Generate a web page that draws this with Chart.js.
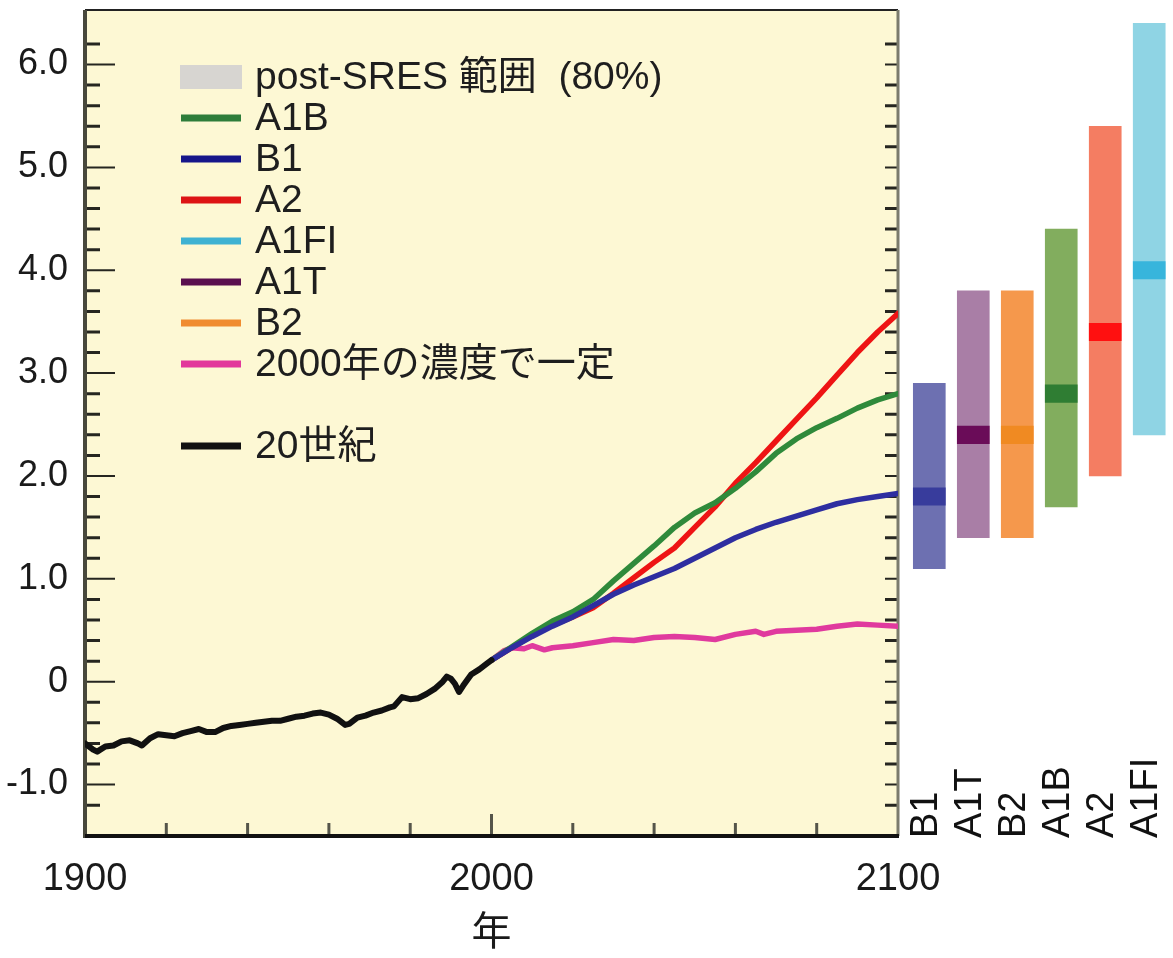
<!DOCTYPE html>
<html lang="ja">
<head>
<meta charset="utf-8">
<title>世界平均地上気温の上昇</title>
<script src="https://cdn.jsdelivr.net/npm/chart.js@4.4.1/dist/chart.umd.min.js"></script>
<style>
  html, body { margin: 0; padding: 0; background: #fff; }
  .chart-container { position: relative; width: 1173px; height: 958px; }
</style>
</head>
<body>
<div class="chart-container">
  <canvas id="chart"></canvas>
</div>
<script>
// 20世紀（観測）
const histYears = [1900, 1902, 1903, 1905, 1907, 1909, 1911, 1913, 1914, 1916, 1918, 1920, 1922, 1924, 1926, 1928, 1930, 1932, 1934, 1936, 1938, 1940, 1942, 1944, 1946, 1948, 1950, 1952, 1954, 1956, 1958, 1960, 1962, 1964, 1965, 1967, 1969, 1971, 1973, 1975, 1976, 1978, 1980, 1982, 1984, 1986, 1988, 1989, 1990, 1991, 1992, 1993, 1995, 1997, 1999, 2000];
const histValues = [-0.60, -0.66, -0.68, -0.63, -0.62, -0.58, -0.57, -0.60, -0.62, -0.55, -0.51, -0.52, -0.53, -0.50, -0.48, -0.46, -0.49, -0.49, -0.45, -0.43, -0.42, -0.41, -0.40, -0.39, -0.38, -0.38, -0.36, -0.34, -0.33, -0.31, -0.30, -0.32, -0.36, -0.42, -0.41, -0.35, -0.33, -0.30, -0.28, -0.25, -0.24, -0.15, -0.17, -0.16, -0.12, -0.07, 0.00, 0.05, 0.03, -0.02, -0.10, -0.04, 0.07, 0.12, 0.18, 0.21];

// シナリオ予測（2000〜2100年）
const projYears = [2000, 2005, 2010, 2015, 2020, 2025, 2030, 2035, 2040, 2045, 2050, 2055, 2060, 2065, 2070, 2075, 2080, 2085, 2090, 2095, 2100];
const a2Values  = [0.21, 0.33, 0.45, 0.55, 0.63, 0.72, 0.86, 1.01, 1.16, 1.30, 1.50, 1.70, 1.93, 2.13, 2.34, 2.55, 2.76, 2.98, 3.20, 3.40, 3.58];
const a1bValues = [0.21, 0.34, 0.47, 0.59, 0.68, 0.80, 0.98, 1.15, 1.32, 1.50, 1.64, 1.74, 1.88, 2.04, 2.22, 2.36, 2.47, 2.56, 2.66, 2.74, 2.80];
const b1Values  = [0.21, 0.33, 0.44, 0.54, 0.63, 0.74, 0.85, 0.94, 1.02, 1.10, 1.20, 1.30, 1.40, 1.48, 1.55, 1.61, 1.67, 1.73, 1.77, 1.80, 1.83];

const commitYears  = [2000, 2003, 2005, 2008, 2010, 2013, 2015, 2020, 2025, 2030, 2035, 2040, 2045, 2050, 2055, 2060, 2065, 2067, 2070, 2075, 2080, 2085, 2090, 2095, 2100];
const commitValues = [0.21, 0.30, 0.33, 0.32, 0.35, 0.31, 0.33, 0.35, 0.38, 0.41, 0.40, 0.43, 0.44, 0.43, 0.41, 0.46, 0.49, 0.46, 0.49, 0.50, 0.51, 0.54, 0.56, 0.55, 0.54];

// 2090-2099年の最良推定値と可能性の高い範囲
const barScenarios = ['B1', 'A1T', 'B2', 'A1B', 'A2', 'A1FI'];
const barLow    = [1.1, 1.4, 1.4, 1.7, 2.0, 2.4];
const barHigh   = [2.9, 3.8, 3.8, 4.4, 5.4, 6.4];
const barBest   = [1.8, 2.4, 2.4, 2.8, 3.4, 4.0];

// 凡例
const legendLabels = ['post-SRES 範囲  (80%)', 'A1B', 'B1', 'A2', 'A1FI', 'A1T', 'B2', '2000年の濃度で一定', '', '20世紀'];
const legendColors = ['#d7d5d1', '#2e7d3a', '#16168a', '#dd1414', '#3fb2d2', '#5a0f4e', '#f08c30', '#e2389b', null, '#111111'];

const yTickLabels = ['-1.0', '0', '1.0', '2.0', '3.0', '4.0', '5.0', '6.0'];
const xTickLabels = ['1900', '2000', '2100'];

const FONT = "'Liberation Sans', 'Noto Sans CJK JP', sans-serif";
const barColors  = ['#6d70b1', '#a97ea6', '#f5984c', '#82ad5e', '#f47d62', '#8fd4e4'];
const bestColors = ['#383c9c', '#6a0c58', '#f08a22', '#2f7d33', '#ff1010', '#37b5dc'];
// 棒の位置（2100年の右側、x軸の単位で）
const barX = barScenarios.map((_, i) => 2107.7 + i * 10.82);

const toXY = (xs, ys) => xs.map((x, i) => ({ x, y: ys[i] }));
const lineSet = (label, xs, ys, color, width) => ({
  type: 'line', label, data: toXY(xs, ys), borderColor: color, borderWidth: width,
  pointRadius: 0, tension: 0, borderJoinStyle: 'round', borderCapStyle: 'round', order: 1
});

// 背景と枠、内向きの目盛り
const framePlugin = {
  id: 'frame',
  beforeDatasetsDraw(chart) {
    const { ctx, chartArea: a, scales: { x, y } } = chart;
    ctx.save();
    ctx.fillStyle = '#fdf8d4';
    ctx.fillRect(a.left, a.top, a.right - a.left, a.bottom - a.top);

    y.ticks.forEach(t => {
      const v = t.value;
      if (Math.abs(v * 5 - Math.round(v * 5)) > 1e-6) return;
      const py = y.getPixelForValue(v);
      const major = Math.abs(v - Math.round(v)) < 1e-6;
      ctx.strokeStyle = '#262620';
      ctx.lineWidth = major ? 2 : 3;
      ctx.beginPath();
      ctx.moveTo(a.left, py); ctx.lineTo(a.left + (major ? 30 : 15), py);
      ctx.moveTo(a.right, py); ctx.lineTo(a.right - 13, py);
      ctx.stroke();
    });
    x.ticks.forEach(t => {
      const v = t.value;
      if (v <= 1900 || v >= 2100) return;
      const px = x.getPixelForValue(v);
      ctx.strokeStyle = '#55554a';
      ctx.lineWidth = 3;
      ctx.beginPath();
      ctx.moveTo(px, a.bottom); ctx.lineTo(px, a.bottom - (v === 2000 ? 22 : 13));
      ctx.stroke();
    });

    ctx.lineWidth = 2; ctx.strokeStyle = '#222';
    ctx.beginPath(); ctx.moveTo(a.left, a.top); ctx.lineTo(a.right, a.top); ctx.stroke();
    ctx.lineWidth = 3; ctx.strokeStyle = '#7b7b6c';
    ctx.beginPath(); ctx.moveTo(a.right, a.top); ctx.lineTo(a.right, a.bottom); ctx.stroke();
    ctx.lineWidth = 4; ctx.strokeStyle = '#48483c';
    ctx.beginPath(); ctx.moveTo(a.left, a.top); ctx.lineTo(a.left, a.bottom + 2); ctx.stroke();
    ctx.strokeStyle = '#111';
    ctx.beginPath(); ctx.moveTo(a.left, a.bottom); ctx.lineTo(a.right + 1, a.bottom); ctx.stroke();
    ctx.restore();
  },
  afterDraw(chart) {
    const { ctx, chartArea: a, scales: { x } } = chart;
    ctx.save();
    // 凡例
    ctx.font = `39px ${FONT}`;
    ctx.textBaseline = 'middle';
    ctx.textAlign = 'left';
    legendLabels.forEach((label, i) => {
      if (!label) return;
      const cy = 77 + i * 41;
      if (i === 0) {
        ctx.fillStyle = legendColors[i];
        ctx.fillRect(180, cy - 12, 62, 24);
      } else {
        ctx.strokeStyle = legendColors[i];
        ctx.lineWidth = 7;
        ctx.beginPath(); ctx.moveTo(181, cy); ctx.lineTo(241, cy); ctx.stroke();
      }
      ctx.fillStyle = '#1e1e1e';
      ctx.fillText(label, 255, cy + 1);
    });
    // 棒の下のシナリオ名（縦書き）
    ctx.font = `38px ${FONT}`;
    barScenarios.forEach((name, i) => {
      ctx.save();
      ctx.translate(x.getPixelForValue(barX[i]) - 3, a.bottom + 2);
      ctx.rotate(-Math.PI / 2);
      ctx.fillStyle = '#111';
      ctx.fillText(name, 0, 0);
      ctx.restore();
    });
    ctx.restore();
  }
};

new Chart(document.getElementById('chart'), {
  type: 'line',
  data: {
    datasets: [
      lineSet('20世紀', histYears, histValues, '#111111', 6),
      lineSet('B1', projYears, b1Values, '#2e2ea0', 5.5),
      lineSet('A1B', projYears, a1bValues, '#2f8a3b', 5.5),
      lineSet('A2', projYears, a2Values, '#ee1414', 5.5),
      lineSet('2000年の濃度で一定', commitYears, commitValues, '#e03a9e', 5.5),
      {
        type: 'bar', label: '範囲',
        data: barScenarios.map((_, i) => ({ x: barX[i], y: [barLow[i], barHigh[i]] })),
        backgroundColor: barColors, barThickness: 32, grouped: false, clip: false, order: 3
      },
      {
        type: 'bar', label: '最良推定値',
        data: barScenarios.map((_, i) => ({ x: barX[i], y: [barBest[i] - 0.085, barBest[i] + 0.085] })),
        backgroundColor: bestColors, barThickness: 32, grouped: false, clip: false, order: 2
      }
    ]
  },
  options: {
    responsive: true,
    maintainAspectRatio: false,
    animation: false,
    layout: { padding: { top: 10, right: 275, left: 0, bottom: 0 } },
    plugins: { legend: { display: false }, tooltip: { enabled: false } },
    scales: {
      x: {
        type: 'linear', min: 1900, max: 2100, offset: false,
        grid: { display: false }, border: { display: false },
        ticks: {
          stepSize: 20, autoSkip: false, maxRotation: 0, padding: 13, color: '#1a1a1a',
          font: { family: FONT, size: 38 },
          callback: v => xTickLabels.includes(String(v)) ? String(v) : ''
        },
        title: { display: true, text: '年', color: '#1a1a1a', font: { family: FONT, size: 40 }, padding: { top: 0, bottom: 0 } },
        afterFit: s => { s.height = 122; s.paddingLeft = 0; s.paddingRight = 0; }
      },
      y: {
        type: 'linear', min: -1.5, max: 6.53,
        grid: { display: false }, border: { display: false },
        ticks: {
          stepSize: 0.2, autoSkip: false, padding: 9, color: '#1a1a1a',
          font: { family: FONT, size: 36 },
          callback: v => {
            if (Math.abs(v - Math.round(v)) > 1e-6) return '';
            const s = Math.round(v) === 0 ? '0' : v.toFixed(1);
            return yTickLabels.includes(s) ? s : '';
          }
        },
        afterFit: s => { s.width = 85; s.paddingTop = 0; s.paddingBottom = 0; }
      }
    }
  },
  plugins: [framePlugin]
});
</script>
</body>
</html>
